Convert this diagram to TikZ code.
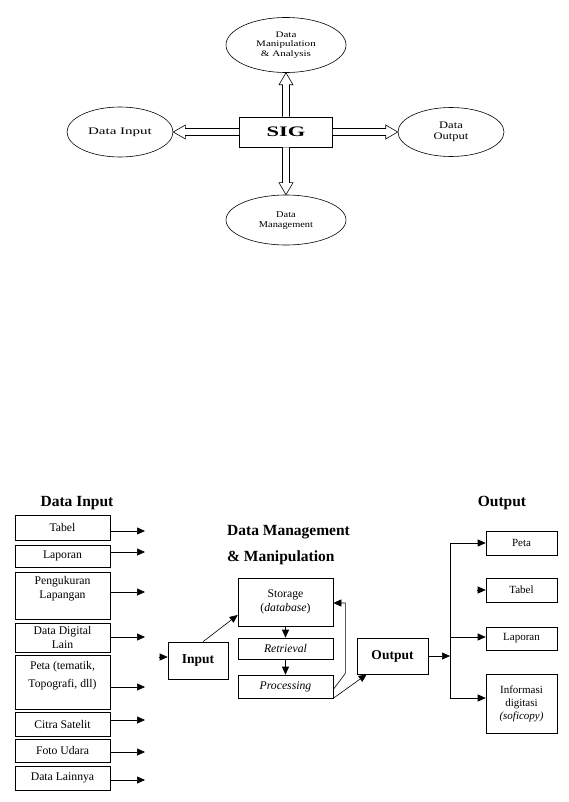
\documentclass[tikz,border=0pt]{standalone}
\usepackage{fontspec}
\setmainfont{Liberation Serif}
\usepackage{graphicx}
\usetikzlibrary{arrows.meta,shapes.geometric,calc}
\newcommand{\hstr}[2]{\scalebox{#1}[1]{\begin{tabular}{@{}c@{}}#2\end{tabular}}}
\newcommand{\topbox}[3]{\parbox[c][#1pt][t]{93pt}{\centering\vspace*{#2pt}#3}}
\begin{document}
\begin{tikzpicture}[x=1pt,y=-1pt,
  ell/.style={ellipse, draw, line width=0.6pt, inner sep=0pt},
  bx/.style={rectangle, draw, line width=0.6pt, inner sep=0pt, align=center},
  hollow/.style={draw, line width=0.6pt, line join=miter, fill=white},
  tip/.style={line width=0.6pt, -{Triangle[length=8pt,width=7pt]}},
  title/.style={inner sep=0pt, font=\bfseries\fontsize{15.5}{18}\selectfont},
  lbox/.style={bx, minimum width=95pt, font=\fontsize{11.7}{13.5}\selectfont},
  mbox/.style={bx, minimum width=95pt, font=\fontsize{11.7}{13.5}\selectfont},
  rbox/.style={bx, minimum width=71pt, font=\fontsize{11}{13}\selectfont},
  bbox/.style={bx, font=\bfseries\fontsize{13.5}{16}\selectfont}]
\useasboundingbox[fill=white] (0,0) rectangle (569,802);

% ---------- top diagram ----------
\node[ell, minimum width=120pt, minimum height=55pt, font=\fontsize{8.5}{9.6}\selectfont] (manip) at (286,45) {\hstr{1.3}{Data\\Manipulation\\\& Analysis}};
\node[ell, minimum width=106pt, minimum height=50pt, font=\fontsize{10}{11}\selectfont] (din) at (120,132) {\hstr{1.5}{Data Input}};
\node[bx, minimum width=93pt, minimum height=30pt, font=\bfseries\fontsize{14.5}{16}\selectfont] (sig) at (286,132) {\scalebox{1.55}[1]{SIG}};
\node[ell, minimum width=106pt, minimum height=49pt, font=\fontsize{10}{11}\selectfont] (dout) at (451,132) {\hstr{1.25}{Data\\Output}};
\node[ell, minimum width=120pt, minimum height=50pt, font=\fontsize{9}{10}\selectfont] (dman) at (286,220) {\hstr{1.15}{Data\\Management}};

% hollow double arrows (shaft half width 3.5, head half width 7, head length 12)
\draw[hollow] ($(sig.north)+(-3.5,0)$) -- ($(manip.south)+(-3.5,12)$) -- ($(manip.south)+(-7,12)$)
  -- (manip.south) -- ($(manip.south)+(7,12)$) -- ($(manip.south)+(3.5,12)$) -- ($(sig.north)+(3.5,0)$);
\draw[hollow] ($(sig.south)+(-3.5,0)$) -- ($(dman.north)+(-3.5,-12)$) -- ($(dman.north)+(-7,-12)$)
  -- (dman.north) -- ($(dman.north)+(7,-12)$) -- ($(dman.north)+(3.5,-12)$) -- ($(sig.south)+(3.5,0)$);
\draw[hollow] ($(sig.west)+(0,-3.5)$) -- ($(din.east)+(12,-3.5)$) -- ($(din.east)+(12,-7)$)
  -- (din.east) -- ($(din.east)+(12,7)$) -- ($(din.east)+(12,3.5)$) -- ($(sig.west)+(0,3.5)$);
\draw[hollow] ($(sig.east)+(0,-3.5)$) -- ($(dout.west)+(-12,-3.5)$) -- ($(dout.west)+(-12,-7)$)
  -- (dout.west) -- ($(dout.west)+(-12,7)$) -- ($(dout.west)+(-12,3.5)$) -- ($(sig.east)+(0,3.5)$);

% ---------- bottom diagram ----------
\node[title] (tin) at (77,503) {Data Input};
\node[title] (tout) at (502,503) {Output};
\node[title, anchor=west] (tdm) at (227,532) {Data Management};
\node[title, anchor=west] (tdm2) at (227,558) {\& Manipulation};

\node[lbox, minimum height=25pt] (b1) at (62.5,527.5) {Tabel};
\node[lbox, minimum height=22pt] (b2) at (62.5,556) {Laporan};
\node[lbox, minimum height=47pt] (b3) at (62.5,595.5) {\topbox{47}{4}{Pengukuran\\[1pt]Lapangan}};
\node[lbox, minimum height=29pt] (b4) at (62.5,637.5) {Data Digital\\Lain};
\node[lbox, minimum height=54pt] (b5) at (62.5,682) {\topbox{54}{6}{Peta (tematik,\\[5pt]Topografi, dll)}};
\node[lbox, minimum height=24pt] (b6) at (62.5,724) {Citra Satelit};
\node[lbox, minimum height=23pt] (b7) at (62.5,750.5) {Foto Udara};
\node[lbox, minimum height=24pt] (b8) at (62.5,778) {Data Lainnya};

\coordinate (a1) at (145,531);
\coordinate (a2) at (145,552);
\coordinate (a3) at (145,592);
\coordinate (a4) at (145,637);
\coordinate (a5) at (145,687);
\coordinate (a6) at (145,720);
\coordinate (a7) at (145,752);
\coordinate (a8) at (145,780);
\draw[tip] (a1 -| b1.east) -- (a1);
\draw[tip] (a2 -| b2.east) -- (a2);
\draw[tip] (a3 -| b3.east) -- (a3);
\draw[tip] (a4 -| b4.east) -- (a4);
\draw[tip] (a5 -| b5.east) -- (a5);
\draw[tip] (a6 -| b6.east) -- (a6);
\draw[tip] (a7 -| b7.east) -- (a7);
\draw[tip] (a8 -| b8.east) -- (a8);

\node[bbox, minimum width=60pt, minimum height=37pt] (input) at (198,660.5) {Input};
\coordinate (inA) at (159,657);
\draw[tip] (inA) -- (inA -| input.west);

\node[mbox, minimum height=48pt] (stor) at (285.5,602) {Storage\\(\textit{database})};
\node[mbox, minimum height=21pt] (retr) at (285.5,648.5) {\textit{Retrieval}};
\node[mbox, minimum height=23pt] (proc) at (285.5,686.5) {\textit{Processing}};
\draw[tip] (stor.south) -- (retr.north);
\draw[tip] (retr.south) -- (proc.north);
\draw[tip] ($(input.north)+(5,0)$) -- ($(stor.west)+(0,13)$);
\draw[tip] ($(proc.east)+(0,3)$) -- ++(12,-16) |- ($(stor.east)+(0,1)$);

\node[bbox, minimum width=71pt, minimum height=36pt] (output) at (392.5,656) {Output};
\draw[tip] (proc.south east) -- ($(output.south west)+(10,0)$);

\coordinate (bt) at (450,543);
\coordinate (bb) at (450,698);
\coordinate (lc) at (450,637);
\coordinate (ta) at (477,590);
\draw[tip] (output.east) -- (output.east -| bt);
\draw[line width=0.6pt] (bt) -- (bb);

\node[rbox, minimum height=24pt] (peta) at (521.5,543) {Peta};
\node[rbox, minimum height=24pt] (tabel) at (521.5,590) {Tabel};
\node[rbox, minimum height=23pt] (lap) at (521.5,638.5) {Laporan};
\node[rbox, minimum height=59pt] (info) at (521.5,703.5) {Informasi\\digitasi\\\textit{(soficopy)}};
\draw[tip] (bt) -- (peta.west);
\draw[tip] (ta) -- (tabel.west);
\draw[tip] (lc) -- (lc -| lap.west);
\draw[tip] (bb) -- (bb -| info.west);
\end{tikzpicture}
\end{document}
